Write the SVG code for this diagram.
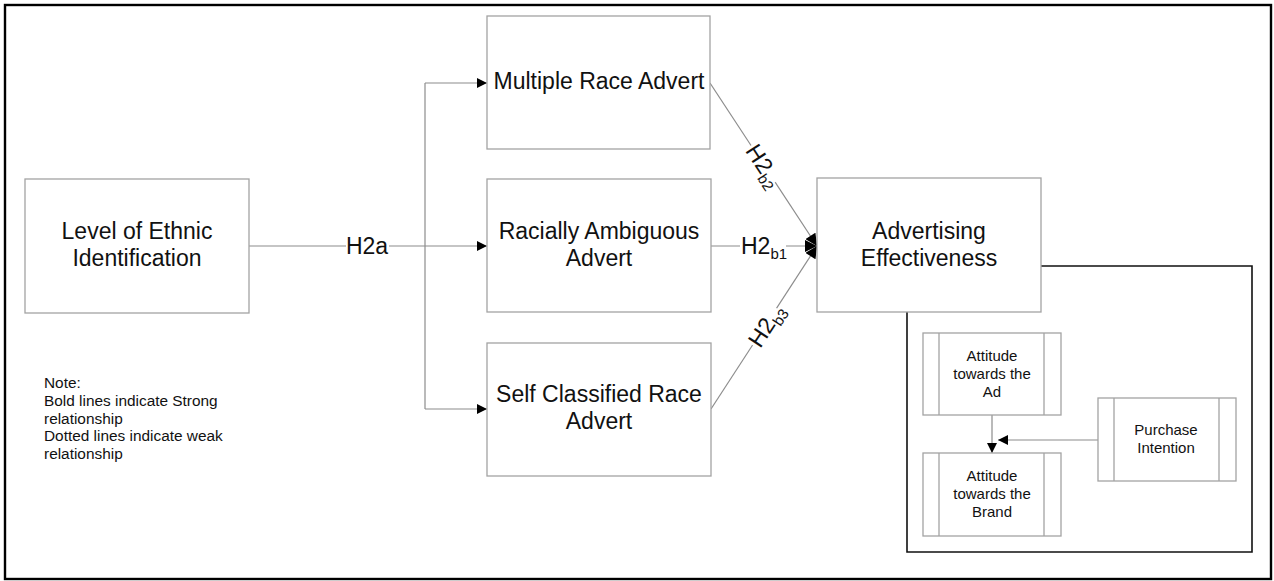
<svg xmlns="http://www.w3.org/2000/svg" width="1274" height="581" viewBox="0 0 1274 581">
<defs>
<style>
.box{fill:#fff;stroke:#a3a3a3;stroke-width:1.3}
.inner{stroke:#a3a3a3;stroke-width:1.3}
.big{font-family:"Liberation Sans",Arial,sans-serif;font-size:23px;fill:#111;text-anchor:middle}
.sm{font-family:"Liberation Sans",Arial,sans-serif;font-size:15px;fill:#111;text-anchor:middle}
.note{font-family:"Liberation Sans",Arial,sans-serif;font-size:15.4px;fill:#111}
.sub{font-size:15px}
.conn{fill:none;stroke:#8c8c8c;stroke-width:1.2}
.blk{fill:none;stroke:#111;stroke-width:1.6}
.lblbg{fill:#fff}
</style>
<marker id="ah" viewBox="0 0 10 10" refX="10" refY="5" markerWidth="11" markerHeight="10" markerUnits="userSpaceOnUse" orient="auto">
<path d="M0,0 L10,5 L0,10 Z" fill="#000"/>
</marker>
<marker id="ahb" viewBox="0 0 10 10" refX="10" refY="5" markerWidth="13" markerHeight="12" markerUnits="userSpaceOnUse" orient="auto">
<path d="M0,0 L10,5 L0,10 Z" fill="#000"/>
</marker>
</defs>
<rect width="1274" height="581" fill="#fff"/>
<rect x="5" y="5" width="1266" height="574" fill="none" stroke="#000" stroke-width="2.4"/>

<g id="connectors">
<path class="conn" d="M249,246 H425"/>
<path class="conn" d="M425,83 V409"/>
<path class="conn" d="M425,83 H487" marker-end="url(#ah)"/>
<path class="conn" d="M425,246 H487" marker-end="url(#ah)"/>
<path class="conn" d="M425,409 H487" marker-end="url(#ah)"/>
<path class="conn" d="M710,83 L817,246" marker-end="url(#ahb)"/>
<path class="conn" d="M711,246 H817" marker-end="url(#ahb)"/>
<path class="conn" d="M711,409 L817,246" marker-end="url(#ahb)"/>
<path class="conn" d="M992,415 V453" marker-end="url(#ah)"/>
<path class="conn" d="M1098,440 H998" marker-end="url(#ah)"/>
<path class="blk" d="M1041,266 H1252 V552 H907 V312"/>
<g id="lbl-h2a">
<rect class="lblbg" x="346" y="234" width="43" height="24"/>
<text class="big" x="367" y="254">H2a</text>
</g>
<g id="lbl-h2b1">
<rect class="lblbg" x="740" y="234" width="46" height="26"/>
<text class="big" x="741" y="254" style="text-anchor:start">H2<tspan class="sub" dy="5">b1</tspan></text>
</g>
<g id="lbl-h2b2" transform="translate(763,164) rotate(56.7)">
<rect class="lblbg" x="-22" y="-11" width="44" height="25"/>
<text class="big" x="-21" y="8" style="text-anchor:start">H2<tspan class="sub" dy="5">b2</tspan></text>
</g>
<g id="lbl-h2b3" transform="translate(765,327) rotate(-56.7)">
<rect class="lblbg" x="-22" y="-11" width="44" height="25"/>
<text class="big" x="-21" y="8" style="text-anchor:start">H2<tspan class="sub" dy="5">b3</tspan></text>
</g>
</g>

<g id="n-level">
<rect class="box" x="25" y="179" width="224" height="134"/>
<text class="big" x="137" y="239">Level of Ethnic</text>
<text class="big" x="137" y="266">Identification</text>
</g>
<g id="n-multiple">
<rect class="box" x="487" y="16" width="223" height="133"/>
<text class="big" x="599" y="89">Multiple Race Advert</text>
</g>
<g id="n-racially">
<rect class="box" x="487" y="179" width="224" height="133"/>
<text class="big" x="599" y="239">Racially Ambiguous</text>
<text class="big" x="599" y="266">Advert</text>
</g>
<g id="n-self">
<rect class="box" x="487" y="343" width="224" height="133"/>
<text class="big" x="599" y="402">Self Classified Race</text>
<text class="big" x="599" y="429">Advert</text>
</g>
<g id="n-adeff">
<rect class="box" x="817" y="178" width="224" height="134"/>
<text class="big" x="929" y="239">Advertising</text>
<text class="big" x="929" y="266">Effectiveness</text>
</g>
<g id="n-attad">
<rect class="box" x="923" y="333" width="138" height="82"/>
<line class="inner" x1="939" y1="333" x2="939" y2="415"/>
<line class="inner" x1="1044" y1="333" x2="1044" y2="415"/>
<text class="sm" x="992" y="361">Attitude</text>
<text class="sm" x="992" y="379">towards the</text>
<text class="sm" x="992" y="397">Ad</text>
</g>
<g id="n-attbrand">
<rect class="box" x="923" y="453" width="138" height="83"/>
<line class="inner" x1="939" y1="453" x2="939" y2="536"/>
<line class="inner" x1="1044" y1="453" x2="1044" y2="536"/>
<text class="sm" x="992" y="481">Attitude</text>
<text class="sm" x="992" y="499">towards the</text>
<text class="sm" x="992" y="517">Brand</text>
</g>
<g id="n-purchase">
<rect class="box" x="1098" y="398" width="138" height="83"/>
<line class="inner" x1="1114" y1="398" x2="1114" y2="481"/>
<line class="inner" x1="1219" y1="398" x2="1219" y2="481"/>
<text class="sm" x="1166" y="435">Purchase</text>
<text class="sm" x="1166" y="453">Intention</text>
</g>
<g id="note">
<text class="note" x="44" y="388">Note:</text>
<text class="note" x="44" y="406">Bold lines indicate Strong</text>
<text class="note" x="44" y="424">relationship</text>
<text class="note" x="44" y="441">Dotted lines indicate weak</text>
<text class="note" x="44" y="459">relationship</text>
</g>
</svg>
